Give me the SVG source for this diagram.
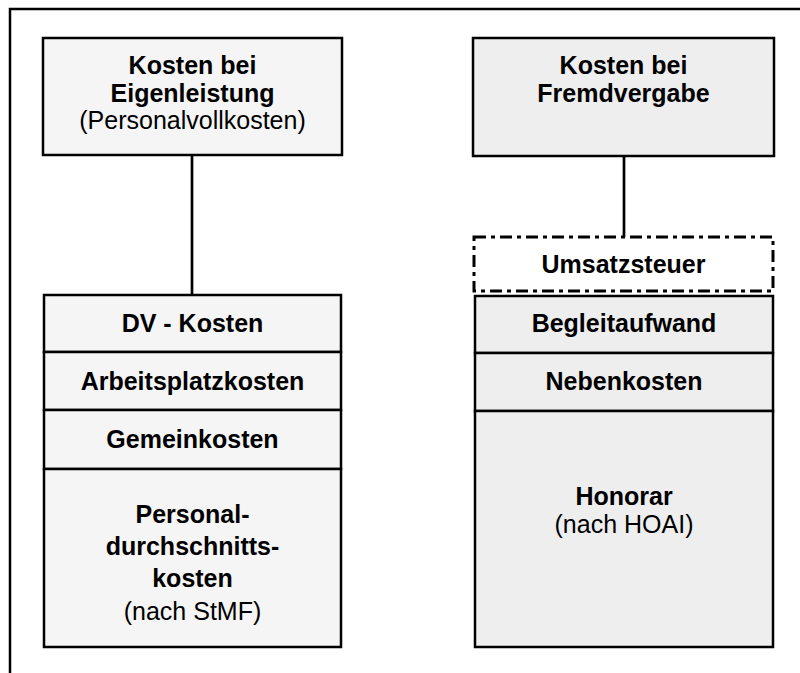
<svg xmlns="http://www.w3.org/2000/svg" width="800" height="673" viewBox="0 0 800 673">
<style>
  text { font-family: "Liberation Sans", Arial, sans-serif; font-size: 25px; fill: #000; text-anchor: middle; }
  .b { font-weight: bold; }
  .boxL { fill: #f5f5f5; stroke: #000; stroke-width: 2.5; }
  .boxR { fill: #eeeeee; stroke: #000; stroke-width: 2.5; }
  .dash { fill: #fff; stroke: #000; stroke-width: 3; stroke-dasharray: 12 5 4 5; }
  .conn { stroke: #000; stroke-width: 2.7; fill: none; }
  .frame { stroke: #000; stroke-width: 2.5; fill: none; }
</style>
<rect width="800" height="673" fill="#fff"/>
<path class="frame" d="M10,673 V9 H800"/>
<g id="connectors">
  <line class="conn" x1="192" y1="155" x2="192" y2="295"/>
  <line class="conn" x1="624" y1="156" x2="624" y2="237"/>
</g>
<g id="eigenleistung">
  <rect class="boxL" x="43" y="38" width="299" height="117"/>
  <text class="b" x="192.5" y="74">Kosten bei</text>
  <text class="b" x="192.5" y="101.5">Eigenleistung</text>
  <text x="192.5" y="129">(Personalvollkosten)</text>
</g>
<g id="fremdvergabe">
  <rect class="boxR" x="473" y="38" width="301" height="118"/>
  <text class="b" x="623.5" y="74">Kosten bei</text>
  <text class="b" x="623.5" y="101.5">Fremdvergabe</text>
</g>
<g id="dv-kosten">
  <rect class="boxL" x="44" y="295" width="297" height="57"/>
  <text class="b" x="192.5" y="332">DV - Kosten</text>
</g>
<g id="arbeitsplatzkosten">
  <rect class="boxL" x="44" y="352" width="297" height="58"/>
  <text class="b" x="192.5" y="389.5">Arbeitsplatzkosten</text>
</g>
<g id="gemeinkosten">
  <rect class="boxL" x="44" y="410" width="297" height="59"/>
  <text class="b" x="192.5" y="448">Gemeinkosten</text>
</g>
<g id="personalkosten">
  <rect class="boxL" x="44" y="469" width="297" height="178"/>
  <text class="b" x="192.5" y="523">Personal-</text>
  <text class="b" x="192.5" y="555">durchschnitts-</text>
  <text class="b" x="192.5" y="587">kosten</text>
  <text x="192.5" y="620">(nach StMF)</text>
</g>
<g id="umsatzsteuer">
  <rect class="dash" x="474" y="237" width="299" height="54"/>
  <text class="b" x="623.5" y="272.5">Umsatzsteuer</text>
</g>
<g id="begleitaufwand">
  <rect class="boxR" x="475" y="296" width="298" height="57"/>
  <text class="b" x="624" y="332">Begleitaufwand</text>
</g>
<g id="nebenkosten">
  <rect class="boxR" x="475" y="353" width="298" height="58"/>
  <text class="b" x="624" y="390">Nebenkosten</text>
</g>
<g id="honorar">
  <rect class="boxR" x="475" y="411" width="298" height="236"/>
  <text class="b" x="624" y="505">Honorar</text>
  <text x="624" y="533">(nach HOAI)</text>
</g>
</svg>
